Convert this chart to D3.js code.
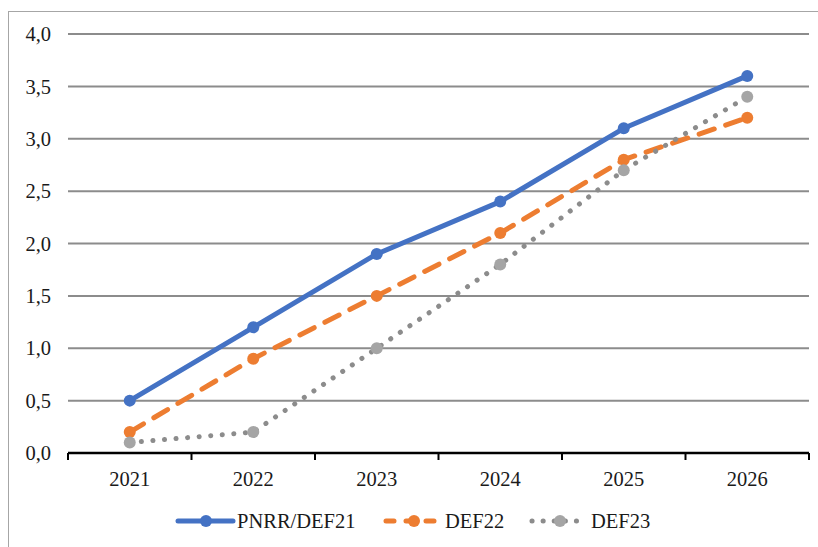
<!DOCTYPE html>
<html>
<head>
<meta charset="utf-8">
<script src="https://cdn.jsdelivr.net/npm/d3@7"></script>
<style>
  body { margin: 0; background: #fff; }
  svg { display: block; }
</style>
</head>
<body>
<svg id="chart"></svg>
<script>
const years = ["2021", "2022", "2023", "2024", "2025", "2026"];
const pnrr = [0.5, 1.2, 1.9, 2.4, 3.1, 3.6];
const def22 = [0.2, 0.9, 1.5, 2.1, 2.8, 3.2];
const def23 = [0.1, 0.2, 1.0, 1.8, 2.7, 3.4];
const yTicks = [0, 0.5, 1, 1.5, 2, 2.5, 3, 3.5, 4];

const series = [
  { name: "PNRR/DEF21", values: pnrr, line: "#4472c4", marker: "#4472c4", dash: null, legendDash: null, legendX: 178 },
  { name: "DEF22", values: def22, line: "#ed7d31", marker: "#ed7d31", dash: "16 12", legendDash: "8 12", legendX: 386 },
  { name: "DEF23", values: def23, line: "#8c8c8c", marker: "#a5a5a5", dash: "0.1 11.5", legendDash: "0.1 11", legendX: 532 }
];

const W = 818, H = 547;
const margin = { top: 34, right: 9, bottom: 94, left: 68 };
const FONT = "'Liberation Serif', 'Times New Roman', 'DejaVu Serif', serif";
const FS = 20.5;

const svg = d3.select("#chart").attr("width", W).attr("height", H)
  .attr("font-family", FONT);

// outer frame
svg.append("rect")
  .attr("x", 8.5).attr("y", 11.5)
  .attr("width", W + 10).attr("height", H + 10)
  .attr("fill", "none").attr("stroke", "#a6a6a6").attr("stroke-width", 1);

const x = d3.scaleBand().domain(years).range([margin.left, W - margin.right]);
const y = d3.scaleLinear().domain([0, 4]).range([H - margin.bottom, margin.top]);

// grid
svg.append("g")
  .selectAll("line")
  .data(yTicks.filter(d => d > 0))
  .join("line")
  .attr("x1", margin.left).attr("x2", W - margin.right)
  .attr("y1", d => y(d)).attr("y2", d => y(d))
  .attr("stroke", "#8c8c8c").attr("stroke-width", 2);

// y labels
svg.append("g")
  .selectAll("text")
  .data(yTicks)
  .join("text")
  .attr("x", 51)
  .attr("y", d => y(d))
  .attr("dy", "0.35em")
  .attr("text-anchor", "end")
  .attr("font-size", FS)
  .attr("fill", "#1a1a1a")
  .text(d => d3.format(".1f")(d).replace(".", ","));

// x axis
const xAxis = svg.append("g")
  .attr("transform", `translate(0,${y(0)})`);
xAxis.append("line")
  .attr("x1", margin.left).attr("x2", W - margin.right)
  .attr("stroke", "#000").attr("stroke-width", 2.5);
const edges = years.map(d => x(d)).concat([x.range()[1]]);
xAxis.selectAll(".tk")
  .data(edges)
  .join("line")
  .attr("class", "tk")
  .attr("x1", d => d).attr("x2", d => d)
  .attr("y1", 0).attr("y2", 7)
  .attr("stroke", "#000").attr("stroke-width", 2);
xAxis.selectAll("text")
  .data(years)
  .join("text")
  .attr("x", d => x(d) + x.bandwidth() / 2)
  .attr("y", 33)
  .attr("text-anchor", "middle")
  .attr("font-size", FS)
  .attr("fill", "#1a1a1a")
  .text(d => d);

const line = d3.line()
  .x((d, i) => x(years[i]) + x.bandwidth() / 2)
  .y(d => y(d));

// lines
series.forEach(s => {
  svg.append("path")
    .datum(s.values)
    .attr("d", line)
    .attr("fill", "none")
    .attr("stroke", s.line)
    .attr("stroke-width", 5)
    .attr("stroke-linecap", "round")
    .attr("stroke-linejoin", "round")
    .attr("stroke-dasharray", s.dash);
});

// markers
series.forEach(s => {
  svg.append("g")
    .selectAll("circle")
    .data(s.values)
    .join("circle")
    .attr("cx", (d, i) => x(years[i]) + x.bandwidth() / 2)
    .attr("cy", d => y(d))
    .attr("r", 6)
    .attr("fill", s.marker);
});

// legend
const ly = 521;
series.forEach(s => {
  const g = svg.append("g");
  g.append("line")
    .attr("x1", s.legendX).attr("x2", s.legendX + 55)
    .attr("y1", ly).attr("y2", ly)
    .attr("stroke", s.line)
    .attr("stroke-width", 5)
    .attr("stroke-linecap", "round")
    .attr("stroke-dasharray", s.legendDash);
  g.append("circle")
    .attr("cx", s.legendX + 28).attr("cy", ly)
    .attr("r", 6).attr("fill", s.marker);
  g.append("text")
    .attr("x", s.legendX + 59).attr("y", ly)
    .attr("dy", "0.35em")
    .attr("font-size", FS)
    .attr("fill", "#1a1a1a")
    .text(s.name);
});
</script>
</body>
</html>
